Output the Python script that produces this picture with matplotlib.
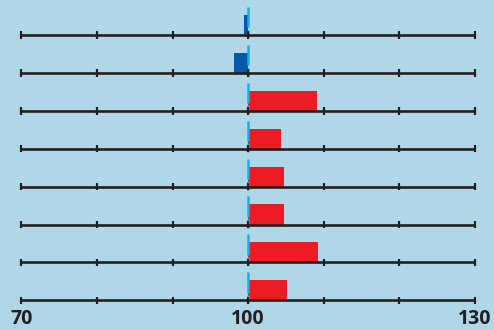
import matplotlib
matplotlib.use("Agg")
import matplotlib.pyplot as plt
import matplotlib.transforms as mtransforms

# Data
rows = list(range(8))
values = [99.5, 98.1, 109.1, 104.4, 104.8, 104.8, 109.2, 105.1]
baseline = 100
ticks = [70, 80, 90, 100, 110, 120, 130]
tick_labels = {70: "70", 100: "100", 130: "130"}

BG = "#b0d7e7"
BLUE = "#0559a8"
RED = "#ed1c24"
CYAN = "#18aee8"
DARK = "#231f20"

fig = plt.figure(figsize=(4.94, 3.30), dpi=100, facecolor=BG)
ax = fig.add_axes([0, 0, 1, 1])
ax.set_facecolor(BG)
ax.axis("off")

px = 453.7 / 60.0
ax.set_xlim(70 - 21.3 / px, 130 + 19.0 / px)
ax.set_ylim((330 - 35) / 37.9, -35 / 37.9)

bar_h = 0.53
for r, v in zip(rows, values):
    color = BLUE if v < baseline else RED
    ax.barh(r, v - baseline, left=baseline, height=-bar_h, align="edge",
            color=color, zorder=2, linewidth=0)
    # axis line
    ax.plot([ticks[0], ticks[-1]], [r, r], color=DARK, lw=1.9,
            solid_capstyle="butt", zorder=3)
    for t in ticks:
        ax.plot([t, t], [r - 0.1, r + 0.1], color=DARK, lw=1.6,
                solid_capstyle="butt", zorder=3)
    # dashed reference marker at 100
    ax.plot([baseline, baseline], [r - 0.74, r - 0.2], color=CYAN, lw=1.8,
            solid_capstyle="butt", zorder=4)
    ax.plot([baseline, baseline], [r - 0.14, r + 0.08], color=CYAN, lw=1.8,
            solid_capstyle="butt", zorder=2.5)

trans = mtransforms.blended_transform_factory(ax.transData, ax.transAxes)
for t, lab in tick_labels.items():
    ax.text(t, 0.5 / 330, lab, transform=trans, ha="center", va="bottom",
            fontsize=14, fontweight="bold", family="Open Sans", color=DARK,
            clip_on=False)

fig.savefig("out.png", dpi=100, facecolor=BG)
